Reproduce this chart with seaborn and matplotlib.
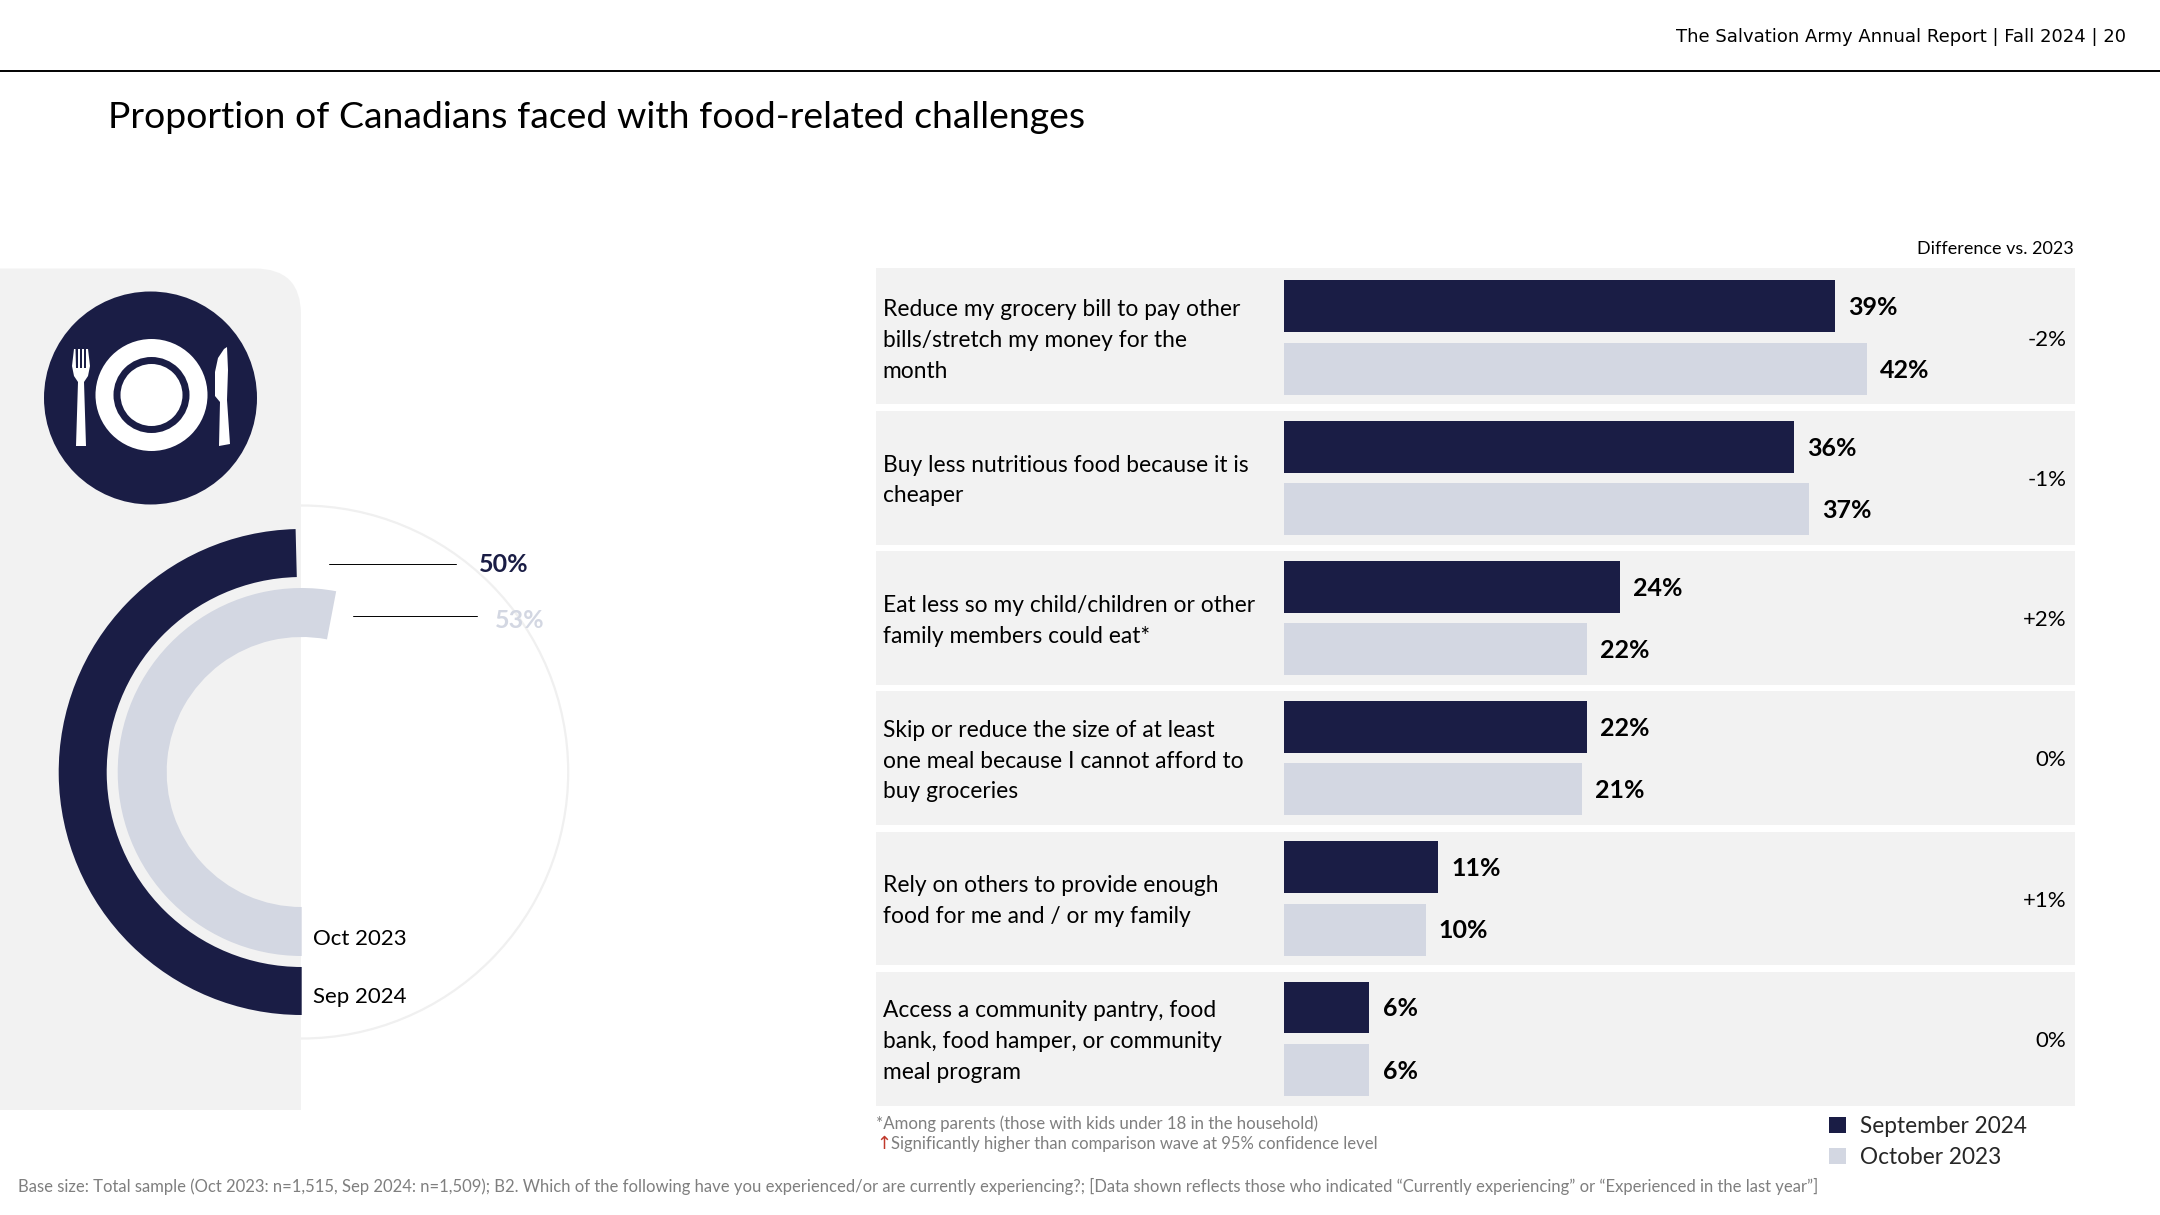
import seaborn as sns
import pandas as pd
import matplotlib.pyplot as plt
from matplotlib.patches import Circle, PathPatch, Polygon
from matplotlib.path import Path

#chart values
categories = ['Reduce my grocery bill to pay other\nbills/stretch my money for the\nmonth',
              'Buy less nutritious food because it is\ncheaper',
              'Eat less so my child/children or other\nfamily members could eat*',
              'Skip or reduce the size of at least\none meal because I cannot afford to\nbuy groceries',
              'Rely on others to provide enough\nfood for me and / or my family',
              'Access a community pantry, food\nbank, food hamper, or community\nmeal program']
sep_2024 = [39.2, 36.3, 23.9, 21.6, 11.0, 6.1]
oct_2023 = [41.5, 37.4, 21.6, 21.2, 10.1, 6.1]
differences = ['-2%', '-1%', '+2%', '0%', '+1%', '0%']
ring_waves = ['Sep 2024', 'Oct 2023']
ring_values = [49.6, 53.0]
ring_labels = ['50%', '53%']

NAVY = '#1A1D45'
LIGHT = '#D3D7E2'
PANEL = '#F2F2F2'
GREY = '#7F7F7F'
W, H = 2160, 1215

sns.set_theme(style='white')
plt.rcParams['font.family'] = ['Lato', 'DejaVu Sans']

fig = plt.figure(figsize=(21.6, 12.15), dpi=100)

#background layer, works in picture pixels
bg = fig.add_axes([0, 0, 1, 1])
bg.set_xlim(0, W)
bg.set_ylim(H, 0)
bg.axis('off')


def axes_box(left, top, right, bottom):
    return [left / W, 1 - bottom / H, (right - left) / W, (bottom - top) / H]


#header
bg.plot([0, W], [70.5, 70.5], color='black', lw=1.4)
bg.text(2126, 36.5, 'The Salvation Army Annual Report | Fall 2024 | 20', ha='right', va='center',
        fontsize=13, color='black', family='DejaVu Sans')
bg.text(108, 118, 'Proportion of Canadians faced with food-related challenges', ha='left', va='center',
        fontsize=26.9, color='black')

#ring behind the grey panel
CX, CY = 301.7, 772
bg.add_patch(Circle((CX, CY), 266.5, fc='none', ec='#F0F0F0', lw=1.6, zorder=1))

#grey panel on the left, top right corner rounded
px, ptop, pbot, r = 301, 268.5, 1110, 46
verts = [(0, ptop), (px - r, ptop), (px, ptop), (px, ptop + r), (px, pbot), (0, pbot), (0, ptop)]
codes = [Path.MOVETO, Path.LINETO, Path.CURVE3, Path.CURVE3, Path.LINETO, Path.LINETO, Path.CLOSEPOLY]
bg.add_patch(PathPatch(Path(verts, codes), fc=PANEL, ec='none', zorder=2))

#plate icon
ix, iy = 150.5, 398
bg.add_patch(Circle((ix, iy), 106.5, fc=NAVY, ec='none', zorder=3))
bg.add_patch(Circle((ix + 1, iy - 3), 56, fc='white', ec='none', zorder=4))
bg.add_patch(Circle((ix + 1, iy - 3), 38, fc=NAVY, ec='none', zorder=5))
bg.add_patch(Circle((ix + 1, iy - 3), 31, fc='white', ec='none', zorder=6))
fork = [(74, 349), (75.5, 349), (76, 368), (78, 368), (78, 349), (80, 349), (80, 368), (82, 368), (82, 349),
        (84, 349), (84, 368), (86, 368), (86, 349), (88, 349), (90, 366), (88, 376), (84, 382),
        (86, 446), (76, 446), (78, 382), (74, 376), (72, 366)]
knife = [(224, 349), (227, 347), (228, 370), (227, 400), (230, 444), (219, 446), (220, 402), (215, 396),
         (215, 372), (218, 358)]
bg.add_patch(Polygon(fork, closed=True, fc='white', ec='none', zorder=4))
bg.add_patch(Polygon(knife, closed=True, fc='white', ec='none', zorder=4))

#donut rings
ring = fig.add_axes(axes_box(CX - 275, CY - 275, CX + 275, CY + 275))
ring.patch.set_alpha(0)
outer_radius = [243, 184]
ring_widths = [48, 49]
ring_colors = [NAVY, LIGHT]
for value, radius, width, color in zip(ring_values, outer_radius, ring_widths, ring_colors):
    ring.pie([value, 100 - value], radius=radius, startangle=270, counterclock=False,
             colors=[color, 'none'], wedgeprops={'width': width, 'linewidth': 0})
ring.set_xlim(-275, 275)
ring.set_ylim(-275, 275)

#leader lines and labels for the rings
bg.plot([329, 456], [564, 564], color='black', lw=0.7, zorder=7)
bg.plot([353, 477], [616, 616], color='black', lw=0.7, zorder=7)
bg.text(479, 565, ring_labels[0], ha='left', va='center', fontsize=18, fontweight='bold', color=NAVY, zorder=7)
bg.text(495, 620, ring_labels[1], ha='left', va='center', fontsize=18, fontweight='bold', color=LIGHT, zorder=7)
bg.text(313, 939, ring_waves[1], ha='left', va='center', fontsize=16, color='black', zorder=7)
bg.text(313, 997, ring_waves[0], ha='left', va='center', fontsize=16, color='black', zorder=7)

#bar chart with the row panels
df = pd.DataFrame({'category': categories * 2,
                   'value': sep_2024 + oct_2023,
                   'wave': ['September 2024'] * 6 + ['October 2023'] * 6})

ax = fig.add_axes(axes_box(876, 267.4, 2074.6, 1108.8))
ax.patch.set_alpha(0)
sns.barplot(df, y='category', x='value', hue='wave', palette=[NAVY, LIGHT], orient='h',
            width=0.888, gap=0.167, errorbar=None, ax=ax, saturation=1, linewidth=0)
ax.set_xlim(-29.02, 56.28)
ax.set_ylim(5.5, -0.5)
for i in range(len(categories)):
    ax.axhspan(i - (0.495 if i == 0 else 0.477), i + 0.477, color=PANEL, lw=0, zorder=0)

for container in ax.containers:
    for t in ax.bar_label(container, fmt='%.0f%%', padding=10, fontsize=18, fontweight='bold', color='black'):
        t.xyann = (9.5, -1)

trans = ax.get_yaxis_transform()
for i, (label, diff) in enumerate(zip(categories, differences)):
    ax.text(0.0057, i + 0.02, label, transform=trans, ha='left', va='center', fontsize=16.4,
            linespacing=1.58, color='black')
    ax.text(0.993, i + 0.015, diff, transform=trans, ha='right', va='center', fontsize=16, color='black')

sns.move_legend(ax, loc='upper left', bbox_to_anchor=(1829 / W, 1 - 1116 / H), bbox_transform=fig.transFigure,
                title=None, frameon=False, fontsize=16.3, handlelength=0.75, handleheight=0.75,
                handletextpad=0.63, labelspacing=0.44, borderpad=0, borderaxespad=0)
ax.set_xlabel('')
ax.set_ylabel('')
ax.axis('off')

#notes
bg.text(2074, 249, 'Difference vs. 2023', ha='right', va='center', fontsize=13, color='black')
bg.text(876, 1124, '*Among parents (those with kids under 18 in the household)', ha='left', va='center',
        fontsize=12.1, color=GREY)
bg.text(876, 1144, '\u2191', ha='left', va='center', fontsize=13, color='#C0392B', family='DejaVu Sans')
bg.text(891, 1144, 'Significantly higher than comparison wave at 95% confidence level', ha='left', va='center',
        fontsize=12, color=GREY)
bg.text(18, 1186, 'Base size: Total sample (Oct 2023: n=1,515, Sep 2024: n=1,509); B2. Which of the following have you '
        'experienced/or are currently experiencing?; [Data shown reflects those who indicated \u201cCurrently '
        'experiencing\u201d or \u201cExperienced in the last year\u201d]', ha='left', va='center', fontsize=12, color=GREY)

fig.savefig('out.png', dpi=100)
